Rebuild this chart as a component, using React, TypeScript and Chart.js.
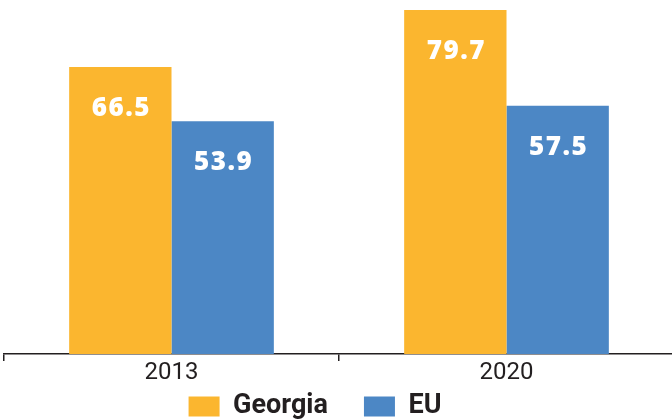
import React, { useEffect, useRef } from 'react';
import { Chart, registerables } from 'chart.js';

Chart.register(...registerables);

const categories = ['2013', '2020'];
const seriesNames = ['Georgia', 'EU'];
const georgiaValues = [66.5, 79.7];
const euValues = [53.9, 57.5];
const seriesColors = ['#FBB62F', '#4C87C5'];
const Y_MAX = 82;

const INK = '#231F20';
const LEGEND_SHIFT_X = -24;
const LEGEND_SHIFT_Y = -28;
const LABEL_BASELINE_OFFSET = 49;

const legendPlacer = {
  id: 'legendPlacer',
  afterLayout(chart: any) {
    const lg = chart.legend;
    if (!lg) return;
    lg.left += LEGEND_SHIFT_X;
    lg.right += LEGEND_SHIFT_X;
    lg.top += LEGEND_SHIFT_Y;
    lg.bottom += LEGEND_SHIFT_Y;
  },
};

const valueLabels = {
  id: 'valueLabels',
  afterDatasetsDraw(chart: any) {
    const { ctx } = chart;
    ctx.save();
    ctx.font = '800 26px "Open Sans"';
    try {
      (ctx as any).letterSpacing = '1.5px';
    } catch (e) {}
    ctx.fillStyle = '#ffffff';
    ctx.textAlign = 'center';
    ctx.textBaseline = 'alphabetic';
    chart.data.datasets.forEach((ds: any, i: number) => {
      chart.getDatasetMeta(i).data.forEach((bar: any, j: number) => {
        ctx.fillText(Number(ds.data[j]).toFixed(1), bar.x + 1, bar.y + LABEL_BASELINE_OFFSET);
      });
    });
    ctx.restore();
  },
};

export default function App() {
  const ref = useRef<HTMLCanvasElement>(null);

  useEffect(() => {
    if (!ref.current) return;
    const chart = new Chart(ref.current, {
      type: 'bar',
      data: {
        labels: categories,
        datasets: [
          {
            label: seriesNames[0],
            data: georgiaValues,
            backgroundColor: seriesColors[0],
            borderWidth: 0,
            categoryPercentage: 0.611,
            barPercentage: 1,
          },
          {
            label: seriesNames[1],
            data: euValues,
            backgroundColor: seriesColors[1],
            borderWidth: 0,
            categoryPercentage: 0.611,
            barPercentage: 1,
          },
        ],
      },
      options: {
        animation: false,
        responsive: false,
        devicePixelRatio: 1,
        events: [],
        layout: { padding: { left: 4, right: 6, top: 0, bottom: 0 } },
        scales: {
          x: {
            grid: {
              display: true,
              drawOnChartArea: false,
              drawTicks: true,
              tickLength: 7,
              color: INK,
              lineWidth: 1.5,
              offset: true,
            },
            border: { display: true, color: INK, width: 1.5 },
            ticks: {
              color: INK,
              font: { family: '"Liberation Sans Narrow", Roboto', size: 24, lineHeight: 1 },
              padding: 0,
            },
          },
          y: {
            display: false,
            min: 0,
            max: Y_MAX,
          },
        },
        plugins: {
          tooltip: { enabled: false },
          legend: {
            position: 'bottom',
            labels: {
              boxWidth: 31,
              boxHeight: 20,
              padding: 36,
              color: INK,
              font: { family: 'Roboto', size: 27, weight: 'bold' },
            },
          },
        },
      },
      plugins: [legendPlacer, valueLabels],
    } as any);
    return () => chart.destroy();
  }, []);

  return (
    <div
      style={{
        position: 'fixed',
        left: 0,
        top: 0,
        width: 672,
        height: 420,
        overflow: 'hidden',
        background: '#ffffff',
      }}
    >
      <canvas
        ref={ref}
        width={680}
        height={458}
        style={{ position: 'absolute', left: 0, top: 0, width: 680, height: 458 }}
      />
    </div>
  );
}
